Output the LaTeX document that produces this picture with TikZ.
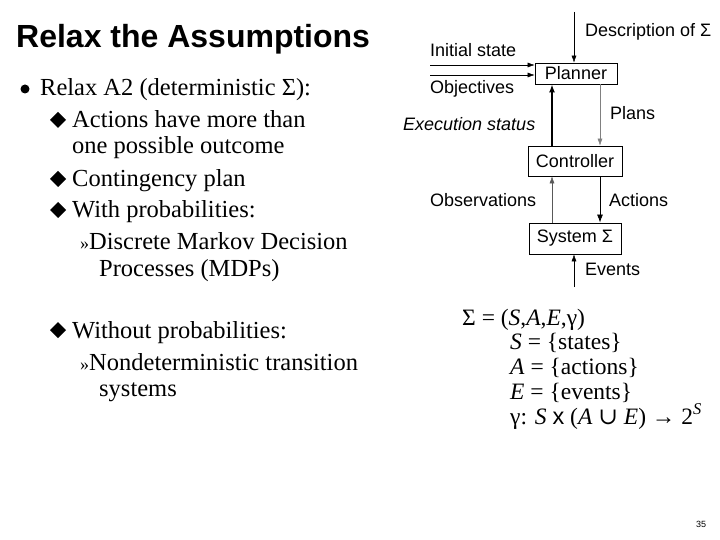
\documentclass[tikz,border=0pt]{standalone}
\usepackage{fontspec}
\setmainfont{Liberation Serif}
\setsansfont{Liberation Sans}
\newfontfamily\djfont{DejaVu Serif}
\usetikzlibrary{arrows.meta}
\begin{document}
\begin{tikzpicture}[x=1pt,y=-1pt,
  box/.style={draw,thick,inner sep=0pt,font=\sffamily\fontsize{18}{18}\selectfont},
  lab/.style={font=\sffamily\fontsize{18}{18}\selectfont,inner sep=0pt},
  txt/.style={font=\fontsize{24.5}{24.5}\selectfont,anchor=base west,inner sep=0pt},
  ftxt/.style={font=\fontsize{23.5}{23.5}\selectfont,anchor=base west,inner sep=0pt},
  arr/.style={-{Latex[length=7pt,width=5pt]},thin}]
\useasboundingbox (0,0) rectangle (720,540);
\node[anchor=base west,inner sep=0pt,font=\sffamily\bfseries\fontsize{32}{32}\selectfont] (title) at (16,48) {Relax the Assumptions};
\fill (25,89) circle (4.5);
\node[txt] (l1) at (40,96) {Relax A2 (deterministic Σ):};
\foreach \y in {128,187,218,338}{\fill (50,\y-8) -- ++(8,-8)--++(8,8)--++(-8,8)--cycle;}
\node[txt] (l2) at (72,128) {Actions have more than};
\node[txt] (l3) at (72,154) {one possible outcome};
\node[txt] (l4) at (72,187) {Contingency plan};
\node[txt] (l5) at (72,218) {With probabilities:};
\node[txt] (l6) at (80,249) {\fontsize{18}{18}\selectfont»\fontsize{24.5}{24.5}\selectfont Discrete Markov Decision};
\node[txt] (l7) at (99,276) {Processes (MDPs)};
\node[txt] (l8) at (72,338) {Without probabilities:};
\node[txt] (l9) at (80,370) {\fontsize{18}{18}\selectfont»\fontsize{24.5}{24.5}\selectfont Nondeterministic transition};
\node[txt] (l10) at (99,396) {systems};
% diagram
\node[box,minimum width=82,minimum height=21] (pl) at (576,73.5) {Planner};
\node[box,minimum width=94,minimum height=30] (co) at (575,161) {Controller};
\node[box,minimum width=92,minimum height=31] (sy) at (575,238.5) {System Σ};
\coordinate (dtop) at (574,12);
\coordinate (etop) at (574,287);
\coordinate (i1) at (430,65);
\coordinate (i2) at (430,75);
\draw[arr] (dtop) -- (dtop|-pl.north);
\draw[arr] (i1) -- (i1-|pl.west);
\draw[arr] (i2) -- (i2-|pl.west);
\draw[-{Latex[length=8pt,width=6pt]},line width=2.2pt] (co.north-|552,0) -- (pl.south-|552,0);
\draw[arr,gray] (pl.south-|600,0) -- (co.north-|600,0);
\draw[arr,gray!70!black] (sy.north-|552,0) -- (co.south-|552,0);
\draw[-{Latex[length=8pt,width=6pt]},thick] (co.south-|600,0) -- (sy.north-|600,0);
\draw[arr] (etop) -- (sy.south-|574,0);
\node[lab,anchor=west] (ld) at (585,32) {Description of Σ};
\node[lab,anchor=west] (li) at (430,50) {Initial state};
\node[lab,anchor=west] (lo) at (430,89) {Objectives};
\node[lab,anchor=west,font=\sffamily\itshape\fontsize{18}{18}\selectfont] (le) at (403,124) {Execution status};
\node[lab,anchor=west] (lp) at (610,113) {Plans};
\node[lab,anchor=west] (lob) at (430,200) {Observations};
\node[lab,anchor=west] (la) at (609,200) {Actions};
\node[lab,anchor=west] (lev) at (585,269) {Events};
% formulas
\node[ftxt] (f1) at (462,325) {Σ = (\textit{S},\textit{A},\textit{E},γ)};
\node[ftxt] (f2) at (510,349) {\textit{S} = \{states\}};
\node[ftxt] (f3) at (510,374) {\textit{A} = \{actions\}};
\node[ftxt] (f4) at (510,399) {\textit{E} = \{events\}};
\node[ftxt] (f5) at (510,424) {γ: \textit{S} {\sffamily x} (\textit{A} {\djfont ∪} \textit{E}) → 2\textsuperscript{\textit{S}}};
\node[font=\sffamily\fontsize{9}{9}\selectfont,inner sep=0pt] (pn) at (701,524) {35};
\end{tikzpicture}
\end{document}
